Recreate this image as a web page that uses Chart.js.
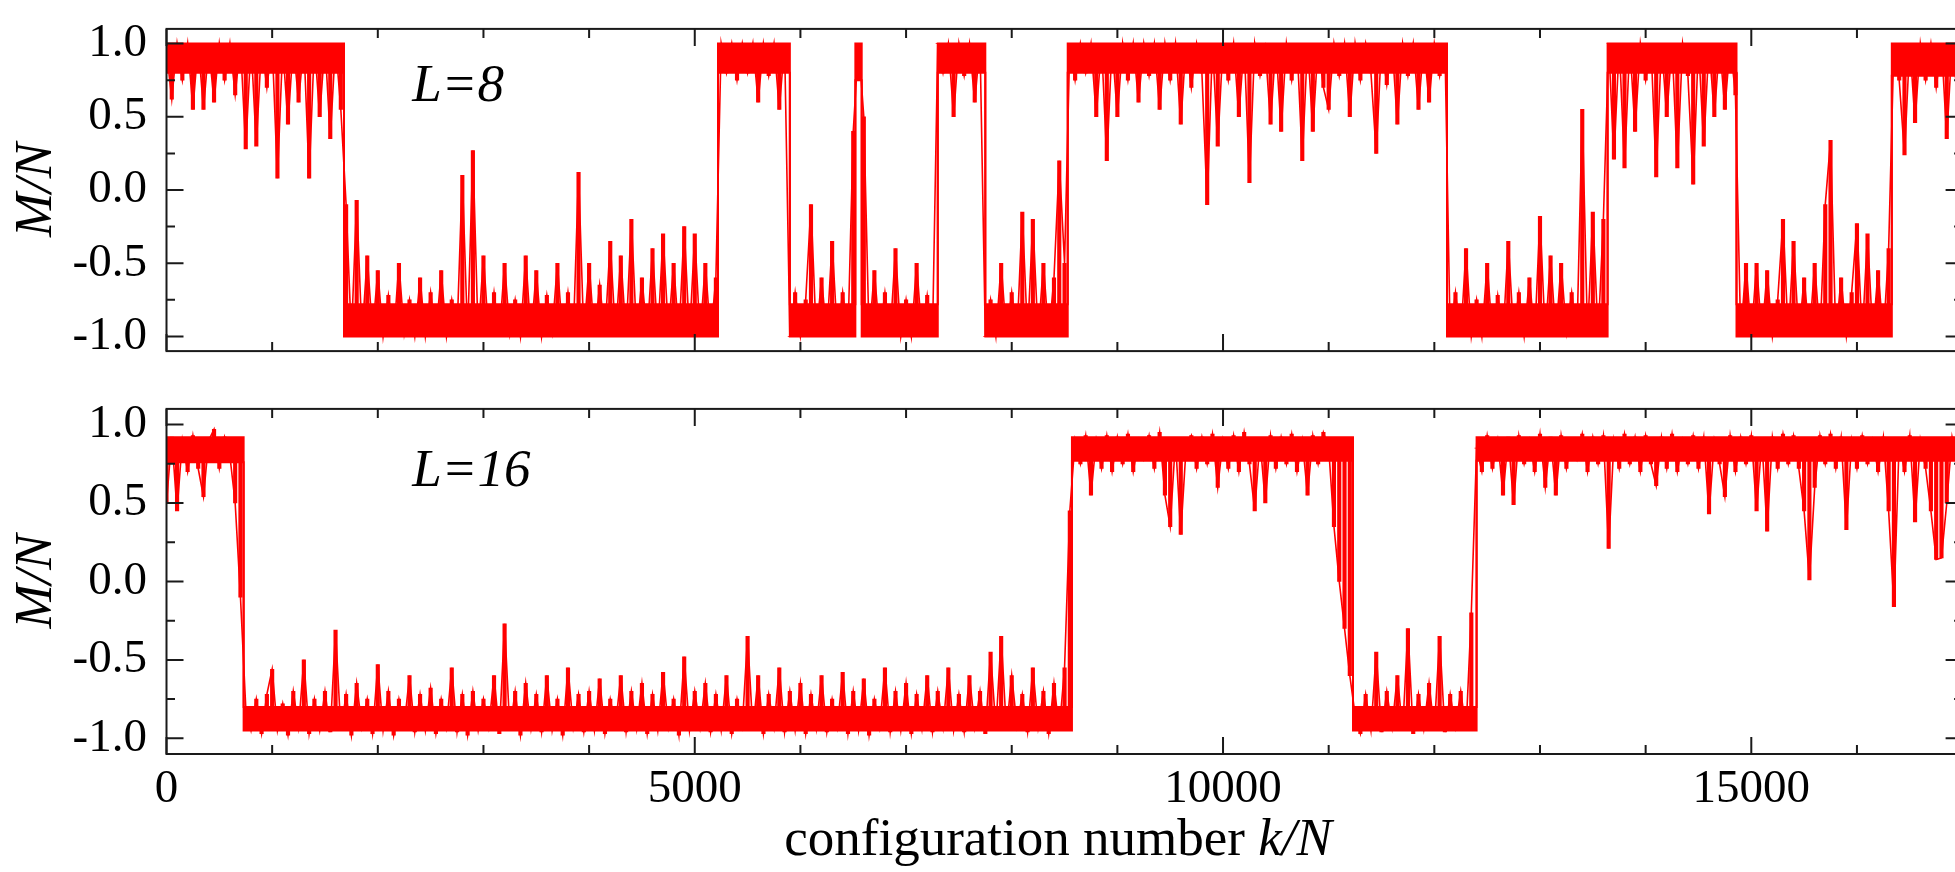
<!DOCTYPE html>
<html>
<head>
<meta charset="utf-8">
<script src="https://cdn.jsdelivr.net/npm/chart.js@4.4.1/dist/chart.umd.min.js"></script>
<style>
  html, body { margin: 0; padding: 0; background: #fff; overflow: hidden; width: 1955px; height: 872px; }
  canvas { position: absolute; left: 0; }
  #top { top: 0; }
  #bottom { top: 380px; }
</style>
</head>
<body>
<canvas id="top" width="1975" height="380"></canvas>
<canvas id="bottom" width="1975" height="492"></canvas>
<script>
const kStep = 50;

const m8 = [
  .95,.62,1,.75,1,.55,1,.55,.98,.6,
  1,.75,1,.65,1,.28,1,.3,1,.7,
  1,.08,.98,.45,1,.6,1,.08,1,.5,
  1,.35,1,.55,-.1,-1,-.07,-1,-.45,-.98,
  -.55,-1,-.72,-1,-.5,-.98,-.75,-1,-.6,-1,
  -.7,-1,-.55,-1,-.75,-.97,.1,-1,.27,-1,
  -.45,-1,-.7,-1,-.5,-.98,-.75,-1,-.45,-1,
  -.55,-1,-.72,-.97,-.5,-1,-.7,-1,.12,-1,
  -.5,-1,-.65,-.98,-.35,-1,-.45,-1,-.2,-1,
  -.6,-1,-.4,-1,-.3,-.97,-.5,-1,-.25,-1,
  -.3,-1,-.5,-1,-.6,1,.8,1,.75,1,
  .8,1,.6,1,.78,1,.55,1,-1,-.7,
  -1,-.75,-.1,-1,-.6,-1,-.35,-1,-.7,-1,
  .4,1,.5,-1,-.55,-1,-.7,-.98,-.4,-1,
  -.75,-1,-.5,-1,-.72,-1,1,.8,1,.5,
  1,.78,1,.6,1,-1,-.75,-1,-.5,-1,
  -.7,-1,-.15,-1,-.2,-1,-.5,-1,-.6,.2,
  -.5,1,.75,1,.8,1,.5,1,.2,1,
  .5,1,.75,1,.6,1,.78,1,.55,1,
  .75,1,.45,1,.7,1,.8,-.1,1,.3,
  1,.75,1,.5,1,.05,1,.78,.97,.45,
  1,.4,1,.75,1,.2,1,.4,1,.7,
  .55,1,.78,1,.5,1,.75,1,.8,.25,
  1,.72,1,.45,1,.78,1,.55,1,.6,
  1,.78,1,-1,-.7,-1,-.4,-1,-.75,-1,
  -.5,-1,-.72,-1,-.35,-.98,-.7,-1,-.6,-1,
  -.18,-1,-.45,-1,-.5,-.97,-.7,-1,.55,-1,
  -.15,-1,-.2,1,.21,1,.15,1,.4,1,
  .75,1,.09,1,.5,1,.15,1,.78,.04,
  1,.3,1,.5,1,.55,1,.65,-1,-.5,
  -1,-.5,-1,-.55,-1,-.75,-.2,-1,-.35,-1,
  -.6,-1,-.5,-1,-.1,.34,-1,-.6,-1,-.7,
  -.23,-1,-.3,-1,-.55,-1,-.4,1,.75,.24,
  1,.46,1,.75,1,.7,1,.35,1,.65,
  1
];

const m16 = [
  .5,.92,.45,.9,.7,.93,.72,.54,.9,.97,
  .72,.92,.8,.5,-.1,-.8,-.95,-.75,-.97,-.72,
  -.56,-.95,-.78,-.98,-.7,-.93,-.5,-.97,-.75,-.95,
  -.7,-.96,-.31,-.95,-.72,-.98,-.65,-.93,-.75,-.97,
  -.53,-.95,-.7,-.98,-.75,-.92,-.6,-.96,-.72,-.95,
  -.68,-.97,-.75,-.93,-.55,-.96,-.72,-.98,-.7,-.95,
  -.75,-.93,-.6,-.97,-.27,-.95,-.7,-.98,-.65,-.94,
  -.72,-.96,-.6,-.95,-.75,-.98,-.55,-.93,-.72,-.96,
  -.7,-.95,-.62,-.97,-.75,-.92,-.6,-.96,-.7,-.94,
  -.65,-.97,-.72,-.95,-.58,-.93,-.75,-.98,-.48,-.95,
  -.7,-.93,-.65,-.96,-.72,-.95,-.6,-.97,-.75,-.92,
  -.35,-.95,-.6,-.97,-.72,-.93,-.55,-.96,-.7,-.95,
  -.65,-.97,-.72,-.94,-.6,-.96,-.75,-.93,-.58,-.97,
  -.7,-.95,-.62,-.98,-.75,-.93,-.55,-.96,-.7,-.95,
  -.65,-.97,-.72,-.94,-.6,-.96,-.7,-.93,-.55,-.95,
  -.72,-.96,-.6,-.93,-.7,-.97,-.45,-.94,-.35,-.95,
  -.6,-.92,-.72,-.96,-.55,-.93,-.7,-.97,-.65,-.95,
  -.55,.45,.9,.75,.93,.55,.9,.72,.93,.7,
  .92,.75,.94,.7,.9,.78,.93,.72,.95,.55,
  .35,.9,.3,.85,.93,.72,.92,.75,.94,.6,
  .9,.72,.93,.7,.95,.75,.45,.9,.5,.93,
  .72,.92,.75,.94,.7,.9,.55,.93,.75,.95,
  .85,.35,0,-.3,-.6,-.85,-.97,-.72,-.95,-.45,
  -.96,-.7,-.93,-.6,-.95,-.3,-.97,-.72,-.94,-.65,
  -.95,-.35,-.96,-.72,-.93,-.7,-.95,-.2,.85,.7,
  .93,.72,.9,.55,.92,.49,.93,.75,.9,.7,
  .94,.6,.92,.55,.93,.72,.9,.78,.94,.7,
  .92,.75,.93,.21,.9,.72,.94,.75,.92,.7,
  .93,.75,.61,.92,.72,.94,.7,.9,.75,.93,
  .72,.92,.43,.9,.75,.54,.93,.7,.92,.75,
  .93,.45,.9,.32,.92,.72,.94,.75,.93,.72,
  .45,.01,.6,.93,.75,.94,.72,.92,.33,.9,
  .72,.93,.75,.9,.7,.92,.45,-.16,.9,.7,
  .93,.38,.9,.72,.45,.14,.15,.5,.92,.75,
  .9
];

// dense core of the fluctuating band: start k of each stretch, lower and upper edge
const core8K  = [0, 1680, 5220, 5900, 6520, 6580, 7300, 7750, 8530, 12120, 13640, 14860, 16330, 17000];
const core8Lo = [.8, -1, .8, -1, .75, -1, .8, -1, .8, -1, .8, -1, .78, .78];
const core8Hi = [1, -.78, 1, -.78, 1, -.78, 1, -.78, 1, -.78, 1, -.78, 1, 1];

const core16K  = [0, 730, 8570, 11230, 12400, 17000];
const core16Lo = [.76, -.95, .77, -.95, .77, .77];
const core16Hi = [.92, -.8, .92, -.8, .92, .92];

const xTicks = [0, 5000, 10000, 15000];
const yTicks = [-1, -0.5, 0, 0.5, 1];
const xMarks = Array.from({ length: 18 }, (_, i) => i * 1000);
const yMarks = [-1, -0.75, -0.5, -0.25, 0, 0.25, 0.5, 0.75, 1];

const RED = '#ff0000';
const SERIF = '"Liberation Serif", "Times New Roman", serif';
Chart.defaults.font.family = SERIF;
Chart.defaults.color = '#000';

// Frame with inward ticks, panel label and (bottom) x title
const framePlugin = {
  id: 'frame',
  afterDatasetsDraw(chart, args, opts) {
    const { ctx, chartArea: a, scales: { x, y } } = chart;
    ctx.save();
    ctx.strokeStyle = '#1a1a1a';
    ctx.lineWidth = 2;
    ctx.strokeRect(a.left, a.top, a.right - a.left, a.bottom - a.top);
    ctx.beginPath();
    xMarks.forEach(v => {
      const px = x.getPixelForValue(v);
      const len = v % 5000 === 0 ? 17 : 9;
      ctx.moveTo(px, a.bottom); ctx.lineTo(px, a.bottom - len);
      ctx.moveTo(px, a.top); ctx.lineTo(px, a.top + len);
    });
    yMarks.forEach(v => {
      const py = y.getPixelForValue(v);
      const len = Math.abs(v * 2 - Math.round(v * 2)) < 1e-6 ? 17 : 8.5;
      ctx.moveTo(a.left, py); ctx.lineTo(a.left + len, py);
      ctx.moveTo(a.right, py); ctx.lineTo(a.right - len, py);
    });
    ctx.stroke();

    ctx.fillStyle = '#000';
    ctx.textBaseline = 'alphabetic';
    ctx.font = 'italic 53px ' + SERIF;
    ctx.fillText(opts.label, x.getPixelForValue(2325), y.getPixelForValue(0.61));

    if (opts.xTitle) {
      const plain = 'configuration number ';
      const ital = 'k/N';
      ctx.font = '53px ' + SERIF;
      const w1 = ctx.measureText(plain).width;
      ctx.font = 'italic 53px ' + SERIF;
      const w2 = ctx.measureText(ital).width;
      const x0 = 1058 - (w1 + w2) / 2;
      ctx.font = '53px ' + SERIF;
      ctx.fillText(plain, x0, 475);
      ctx.font = 'italic 53px ' + SERIF;
      ctx.fillText(ital, x0 + w1, 475);
    }
    ctx.restore();
  }
};

function yScale() {
  return {
    min: -1.1,
    max: 1.1,
    afterFit: s => { s.width = 166.5; },
    afterBuildTicks: s => { s.ticks = yTicks.map(v => ({ value: v })); },
    grid: { display: false, drawTicks: false },
    border: { display: false },
    ticks: {
      padding: 19.5,
      color: '#000',
      font: { size: 47, lineHeight: 0.4 },
      callback: v => v.toFixed(1)
    },
    title: {
      display: true,
      text: 'M/N',
      color: '#000',
      font: { size: 53, style: 'italic', lineHeight: 1.2 },
      padding: { top: 5, bottom: 0 }
    }
  };
}

function coreEdge(ks, vals, fill) {
  return {
    type: 'line',
    data: ks.map((k, i) => ({ x: k, y: vals[i] })),
    stepped: 'before',
    borderColor: RED,
    borderWidth: 2,
    backgroundColor: RED,
    pointRadius: 0,
    fill: fill
  };
}

// each sample becomes a stroke reaching from the dense core out to its value
function strokes(values, coreK, coreLo, coreHi) {
  return values.map((v, i) => {
    const k = i * kStep;
    let j = 0;
    while (j + 1 < coreK.length && coreK[j + 1] <= k) j++;
    let base = v;
    if (v > coreHi[j]) base = coreHi[j];
    else if (v < coreLo[j]) base = coreLo[j];
    return { x: k, y: [base, v] };
  });
}

function makeChart(id, values, coreK, coreLo, coreHi, label, bottom) {
  return new Chart(document.getElementById(id), {
    type: 'line',
    data: {
      datasets: [
        coreEdge(coreK, coreHi, false),
        coreEdge(coreK, coreLo, '-1'),
        {
          type: 'bar',
          data: strokes(values, coreK, coreLo, coreHi),
          backgroundColor: RED,
          borderWidth: 0,
          barThickness: 3.5,
          grouped: false
        },
        {
          type: 'line',
          data: values.map((v, i) => ({ x: i * kStep, y: v })),
          borderColor: RED,
          borderWidth: 1.6,
          pointRadius: 0,
          tension: 0,
          fill: false
        }
      ]
    },
    options: {
      responsive: false,
      animation: false,
      events: [],
      layout: bottom
        ? { padding: { left: 0, top: 21.7, right: 12.4, bottom: 0 } }
        : { padding: { left: 0, top: 14, right: 12.4, bottom: 13 } },
      plugins: {
        legend: { display: false },
        tooltip: { enabled: false },
        frame: { label: label, xTitle: bottom }
      },
      scales: {
        x: bottom ? {
          type: 'linear',
          offset: false,
          min: 0,
          max: 17000,
          afterFit: s => { s.height = 118; },
          afterBuildTicks: s => { s.ticks = xTicks.map(v => ({ value: v })); },
          grid: { display: false, drawTicks: false },
          border: { display: false },
          ticks: {
            padding: 7,
            color: '#000',
            maxRotation: 0,
            autoSkip: false,
            font: { size: 47, lineHeight: 1.2 },
            callback: v => String(v)
          }
        } : {
          type: 'linear',
          offset: false,
          min: 0,
          max: 17000,
          display: false
        },
        y: yScale()
      }
    },
    plugins: [framePlugin]
  });
}

makeChart('top', m8, core8K, core8Lo, core8Hi, 'L=8', false);
makeChart('bottom', m16, core16K, core16Lo, core16Hi, 'L=16', true);
</script>
</body>
</html>
